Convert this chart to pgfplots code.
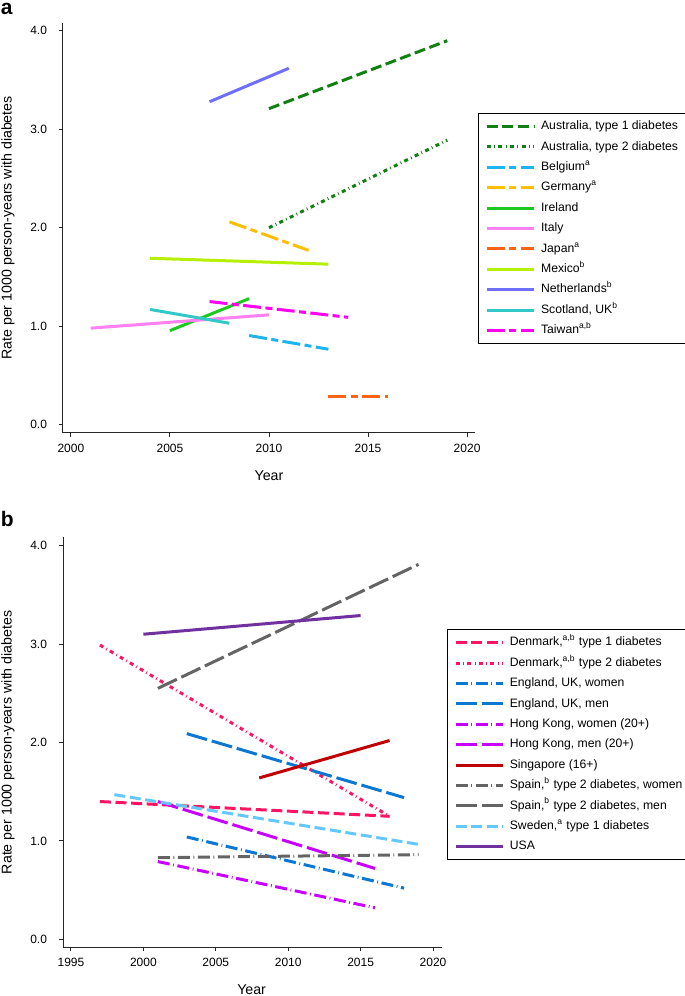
\documentclass[border=0pt]{standalone}
\usepackage{fontspec}
\setmainfont{Liberation Sans}
\usepackage{pgfplots}
\pgfplotsset{compat=1.18}
\definecolor{ausgreen}{RGB}{16,128,16}
\definecolor{belblue}{RGB}{30,180,240}
\definecolor{gerorange}{RGB}{255,190,0}
\definecolor{irlgreen}{RGB}{30,200,30}
\definecolor{itapink}{RGB}{255,128,240}
\definecolor{jpnorange}{RGB}{255,100,20}
\definecolor{mexgreen}{RGB}{180,240,0}
\definecolor{nedblue}{RGB}{110,110,255}
\definecolor{scoteal}{RGB}{50,200,200}
\definecolor{twnmag}{RGB}{255,0,240}
\definecolor{denred}{RGB}{255,20,100}
\definecolor{engblue}{RGB}{10,120,210}
\definecolor{hkpurple}{RGB}{200,0,255}
\definecolor{sgred}{RGB}{190,0,0}
\definecolor{spgray}{RGB}{100,100,100}
\definecolor{swblue}{RGB}{100,200,255}
\definecolor{usapurple}{RGB}{112,48,160}
\pgfplotsset{
 mystyle/.style={
  scale only axis, anchor=south west,
  axis x line*=bottom, axis y line*=left,
  axis line style={line width=0.5pt, black!85},
  tick align=outside, major tick length=2pt,
  tick style={line width=0.5pt, black!85},
  ytick={0,1,2,3,4},
  yticklabel style={/pgf/number format/fixed, /pgf/number format/fixed zerofill, /pgf/number format/precision=1, xshift=-2.5pt},
  xticklabel style={/pgf/number format/1000 sep={}},
  /pgf/number format/assume math mode=true,
  tick label style={font=\fontsize{6}{7}\selectfont},
  label style={font=\fontsize{7.1}{8}\selectfont},
  ylabel={Rate per 1000 person-years with diabetes},
  xlabel={Year},
  legend cell align=left,
  legend image code/.code={\draw[##1, line width=1.5pt] (0pt,0pt) -- (23.5pt,0pt);},
  legend style={draw=black, line width=0.5pt, font=\fontsize{6.1}{7}\selectfont,
    inner sep=3.5pt, row sep=4.4pt, anchor=north west,
    nodes={inner sep=0pt, text height=4.5pt, text depth=1.3pt},
    /tikz/every odd column/.append style={column sep=2.85pt}},
 },
 ln/.style={line width=1.5pt},
 dsh/.style={dash pattern=on 5.5pt off 2.3pt},
 lsd/.style={dash pattern=on 9pt off 2.2pt on 3.5pt off 2.2pt},
 dd/.style={dash pattern=on 2pt off 1.7pt on 0.4pt off 1.7pt},
 ldd/.style={dash pattern=on 6pt off 1.8pt on 0.4pt off 1.8pt},
 ld/.style={dash pattern=on 10.5pt off 2.5pt},
}
\begin{document}
\begin{tikzpicture}
\useasboundingbox (0pt,0pt) rectangle (342.5pt,498pt);
\node[anchor=base west, inner sep=0pt, font=\bfseries\fontsize{10.5}{12}\selectfont] at (0.3pt,490.8pt) {a};
\node[anchor=base west, inner sep=0pt, font=\bfseries\fontsize{10.5}{12}\selectfont] at (0.3pt,234.5pt) {b};
% Panel a
\begin{axis}[mystyle,
  at={(31.5pt,281.5pt)}, width=206pt, height=205pt,
  xmin=1999.6, xmax=2020.4, ymin=-0.085, ymax=4.08,
  xtick={2000,2005,2010,2015,2020},
  ylabel style={at={(axis description cs:-0.1335,0.5)}, anchor=center},
  xlabel style={at={(axis description cs:0.5,-0.105)}, anchor=center},
  legend style={at={(axis description cs:1.007,0.780)}},
]
\addplot[ln, ausgreen, dsh] coordinates {(2010,3.21) (2019,3.90)};
\addlegendentry{Australia, type 1 diabetes}
\addplot[ln, ausgreen, dd] coordinates {(2010,2.00) (2019,2.89)};
\addlegendentry{Australia, type 2 diabetes}
\addplot[ln, belblue, lsd] coordinates {(2009,0.905) (2013,0.766)};
\addlegendentry{Belgium\textsuperscript{a}}
\addplot[ln, gerorange, lsd] coordinates {(2008,2.06) (2012,1.77)};
\addlegendentry{Germany\textsuperscript{a}}
\addplot[ln, irlgreen] coordinates {(2005,0.955) (2009,1.28)};
\addlegendentry{Ireland}
\addplot[ln, itapink] coordinates {(2001,0.98) (2010,1.115)};
\addlegendentry{Italy}
\addplot[ln, jpnorange, lsd] coordinates {(2013,0.29) (2016,0.29)};
\addlegendentry{Japan\textsuperscript{a}}
\addplot[ln, mexgreen] coordinates {(2004,1.69) (2013,1.63)};
\addlegendentry{Mexico\textsuperscript{b}}
\addplot[ln, nedblue] coordinates {(2007,3.28) (2011,3.62)};
\addlegendentry{Netherlands\textsuperscript{b}}
\addplot[ln, scoteal] coordinates {(2004,1.17) (2008,1.03)};
\addlegendentry{Scotland, UK\textsuperscript{b}}
\addplot[ln, twnmag, lsd] coordinates {(2007,1.25) (2014,1.09)};
\addlegendentry{Taiwan\textsuperscript{a,b}}
\end{axis}
% Panel b
\begin{axis}[mystyle,
  at={(31.5pt,24.35pt)}, width=189.35pt, height=205pt,
  xmin=1994.45, xmax=2020.6, ymin=-0.081, ymax=4.085,
  xtick={1995,2000,2005,2010,2015,2020},
  ylabel style={at={(axis description cs:-0.1452,0.5)}, anchor=center},
  xlabel style={at={(axis description cs:0.498,-0.104)}, anchor=center},
  legend style={at={(axis description cs:1.013,0.7756)}},
]
\addplot[ln, denred, dsh] coordinates {(1997,1.40) (2017,1.25)};
\addlegendentry{Denmark,\textsuperscript{a,b} type 1 diabetes}
\addplot[ln, denred, dd] coordinates {(1997,2.99) (2017,1.25)};
\addlegendentry{Denmark,\textsuperscript{a,b} type 2 diabetes}
\addplot[ln, engblue, ldd] coordinates {(2003,1.04) (2018,0.52)};
\addlegendentry{England, UK, women}
\addplot[ln, engblue, ld] coordinates {(2003,2.09) (2018,1.44)};
\addlegendentry{England, UK, men}
\addplot[ln, hkpurple, ldd] coordinates {(2001,0.79) (2016,0.32)};
\addlegendentry{Hong Kong, women (20+)}
\addplot[ln, hkpurple, ld] coordinates {(2001,1.40) (2016,0.72)};
\addlegendentry{Hong Kong, men (20+)}
\addplot[ln, sgred] coordinates {(2008,1.64) (2017,2.02)};
\addlegendentry{Singapore (16+)}
\addplot[ln, spgray, ldd] coordinates {(2001,0.83) (2019,0.86)};
\addlegendentry{Spain,\textsuperscript{b} type 2 diabetes, women}
\addplot[ln, spgray, ld] coordinates {(2001,2.55) (2019,3.81)};
\addlegendentry{Spain,\textsuperscript{b} type 2 diabetes, men}
\addplot[ln, swblue, dsh] coordinates {(1998,1.47) (2019,0.965)};
\addlegendentry{Sweden,\textsuperscript{a} type 1 diabetes}
\addplot[ln, usapurple] coordinates {(2000,3.10) (2015,3.29)};
\addlegendentry{USA}
\end{axis}
\end{tikzpicture}
\end{document}
